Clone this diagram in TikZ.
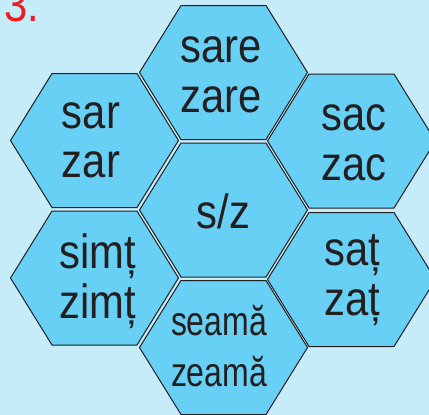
\documentclass[tikz,border=0pt]{standalone}
\usepackage{fontspec}
\setmainfont{Liberation Sans}[FakeStretch=0.87]
\newfontfamily\narrowfont{Liberation Sans}[FakeStretch=0.78]
\usepackage{tikz}

\definecolor{bgblue}{RGB}{198,236,250}
\definecolor{hexblue}{RGB}{104,207,245}
\definecolor{inkgray}{RGB}{35,31,32}
\definecolor{numred}{RGB}{237,28,36}

\tikzset{
  hexa/.style={fill=hexblue, draw=inkgray, line width=1pt, line join=miter},
  word/.style={anchor=base, inner sep=0pt, text=inkgray, font=\fontsize{48}{49}\selectfont},
  smallword/.style={word, font=\narrowfont\fontsize{41}{42}\selectfont}
}

\begin{document}
\begin{tikzpicture}[x=1pt,y=-1pt]
  \useasboundingbox (0,0) rectangle (429,415);
  \clip (0,0) rectangle (429,415);
  \fill[bgblue] (0,0) rectangle (429,415);

  % honeycomb
  \foreach \cx/\cy in {223.5/72.5, 94.5/140.5, 351.5/141, 223.5/210,
                       94.5/278, 351.5/279.5, 223.5/347.5}
    \draw[hexa, shift={(\cx,\cy)}] (-84,0) -- (-42.5,-67) -- (42.5,-67)
      -- (84,0) -- (42.5,67) -- (-42.5,67) -- cycle;

  \node[word, anchor=base west, text=numred] (num) at (4,21) {3.};

  \node[word] (sare) at (221,63) {sare};
  \node[word] (zare) at (221,112) {zare};
  \node[word] (sar) at (91,128) {sar};
  \node[word] (zar) at (91,177) {zar};
  \node[word] (sac) at (354,130) {sac};
  \node[word] (zac) at (354,180) {zac};
  \node[word] (sz) at (223.5,228) {s/z};
  \node[word] (simt) at (97.5,268) {simț};
  \node[word] (zimt) at (97.5,318) {zimț};
  \node[word] (sat) at (352,265) {saț};
  \node[word] (zat) at (352,315) {zaț};
  \node[smallword] (seama) at (219,335) {seamă};
  \node[smallword] (zeama) at (219,386) {zeamă};
\end{tikzpicture}
\end{document}
